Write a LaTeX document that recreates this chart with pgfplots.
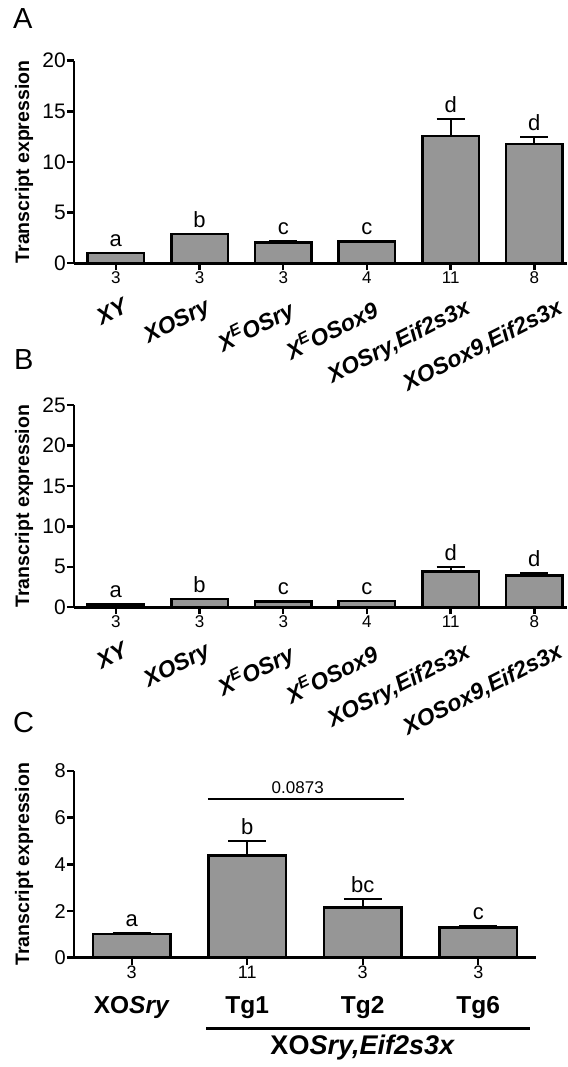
\documentclass[border=0pt]{standalone}
\usepackage{fontspec}
\setmainfont{Liberation Sans}
\usepackage{pgfplots}
\pgfplotsset{compat=1.18}
\definecolor{bargray}{RGB}{150,150,150}
\newcommand{\fs}[1]{\fontsize{#1}{#1}\selectfont}
\pgfplotsset{
  mybar/.style={
    scale only axis, axis lines=left, axis line style={-, line width=2.6pt},
    xmin=-0.5, ymin=0, clip=false, ybar,
    tick align=outside, major tick length=7pt,
    tick style={line width=2.4pt, black},
    yticklabel style={font=\fs{21}, inner sep=1pt},
    xticklabel style={font=\fs{17}, yshift=2pt},
    /pgf/number format/assume math mode=true,
    ylabel={Transcript expression},
    ylabel style={font=\bfseries\fs{19.5}, anchor=center},
  },
  mybars/.style={fill=bargray, draw=black, line width=2.5pt,
    error bars/.cd, y dir=plus, y explicit,
    error bar style={line width=2pt, black},
    error mark options={rotate=90, line width=2pt, black, mark size=#1}},
}
\tikzset{
  lett/.style={anchor=base, font=\fs{22}},
  cat/.style={rotate=27, anchor=north east, font=\bfseries\itshape\fs{23}, inner sep=0},
}
\newcommand{\catlabels}{%
  \node[cat] at ([xshift=6pt,yshift=-34pt]axis cs:0,0) {XY};
  \node[cat] at ([xshift=4.5pt,yshift=-34pt]axis cs:1,0) {XOSry};
  \node[cat] at ([xshift=3.5pt,yshift=-34pt]axis cs:2,0) {X\textsuperscript{E}OSry};
  \node[cat] at ([xshift=4pt,yshift=-34pt]axis cs:3,0) {X\textsuperscript{E}OSox9};
  \node[cat] at ([xshift=13.5pt,yshift=-34pt]axis cs:4,0) {XOSry,Eif2s3x};
  \node[cat] at ([xshift=22pt,yshift=-34pt]axis cs:5,0) {XOSox9,Eif2s3x};
}
\begin{document}
\begin{tikzpicture}[x=1pt,y=1pt]
\useasboundingbox (0,0) rectangle (567,1067);
\node[anchor=base west, font=\fs{29}, inner sep=0] at (13,1038) {A};
\node[anchor=base west, font=\fs{29}, inner sep=0] at (14,697) {B};
\node[anchor=base west, font=\fs{29}, inner sep=0] at (13,334) {C};

% Panel A
\begin{axis}[mybar, at={(74pt,803.7pt)}, anchor=south west, width=493pt, height=202.6pt,
  ylabel style={at={(axis description cs:-0.1014,0.5)}},
  xmax=5.39, ymax=20, ytick={0,5,...,20}, bar width=56.5pt,
  xtick={0,...,5}, xticklabels={3,3,3,4,11,8}]
\addplot[mybars=14pt] coordinates {
  (0,1.0) +- (0,0.03)
  (1,2.88) +- (0,0.05)
  (2,2.07) +- (0,0.13)
  (3,2.15) +- (0,0.05)
  (4,12.55) +- (0,1.7)
  (5,11.8) +- (0,0.7)
};
\node[lett] at ([yshift=6.5pt]axis cs:0,1.03) {a};
\node[lett] at ([yshift=6.5pt]axis cs:1,2.93) {b};
\node[lett] at ([yshift=6.5pt]axis cs:2,2.2) {c};
\node[lett] at ([yshift=6.5pt]axis cs:3,2.2) {c};
\node[lett] at ([yshift=6.5pt]axis cs:4,14.25) {d};
\node[lett] at ([yshift=6.5pt]axis cs:5,12.5) {d};
\catlabels
\end{axis}

% Panel B
\begin{axis}[mybar, at={(74pt,459.7pt)}, anchor=south west, width=493pt, height=202.3pt,
  ylabel style={at={(axis description cs:-0.1014,0.5)}},
  xmax=5.39, ymax=25, ytick={0,5,...,25}, bar width=56.5pt,
  xtick={0,...,5}, xticklabels={3,3,3,4,11,8}]
\addplot[mybars=14pt] coordinates {
  (0,0.35) +- (0,0.04)
  (1,1.03) +- (0,0.05)
  (2,0.7) +- (0,0.05)
  (3,0.78) +- (0,0.03)
  (4,4.4) +- (0,0.55)
  (5,3.9) +- (0,0.3)
};
\node[lett] at ([yshift=6.5pt]axis cs:0,0.39) {a};
\node[lett] at ([yshift=6.5pt]axis cs:1,1.08) {b};
\node[lett] at ([yshift=6.5pt]axis cs:2,0.75) {c};
\node[lett] at ([yshift=6.5pt]axis cs:3,0.81) {c};
\node[lett] at ([yshift=6.5pt]axis cs:4,4.95) {d};
\node[lett] at ([yshift=6.5pt]axis cs:5,4.2) {d};
\catlabels
\end{axis}

% Panel C
\begin{axis}[mybar, at={(74pt,109.3pt)}, anchor=south west, width=462pt, height=186.7pt,
  ylabel style={at={(axis description cs:-0.1082,0.5)}},
  xmax=3.5, ymax=8, ytick={0,2,...,8}, bar width=77.4pt,
  yticklabel style={font=\fs{20}},
  xticklabel style={font=\fs{18}},
  xtick={0,...,3}, xticklabels={3,11,3,3}]
\addplot[mybars=19pt] coordinates {
  (0,1.02) +- (0,0.02)
  (1,4.37) +- (0,0.62)
  (2,2.16) +- (0,0.37)
  (3,1.29) +- (0,0.05)
};
\node[lett] at ([yshift=6.5pt]axis cs:0,1.04) {a};
\node[lett] at ([yshift=6.5pt]axis cs:1,4.99) {b};
\node[lett] at ([yshift=6.5pt]axis cs:2,2.53) {bc};
\node[lett] at ([yshift=6.5pt]axis cs:3,1.34) {c};
\draw[line width=2pt] (axis cs:0.66,6.8) -- (axis cs:2.355,6.8);
\node[anchor=base, font=\fs{17}] at (axis cs:1.437,7.05) {0.0873};
\node[anchor=base, font=\bfseries\fs{24.5}] at ([yshift=-55.5pt]axis cs:0,0) {XO\textit{Sry}};
\node[anchor=base, font=\bfseries\fs{24.5}] at ([yshift=-55.5pt]axis cs:1,0) {Tg1};
\node[anchor=base, font=\bfseries\fs{24.5}] at ([yshift=-55.5pt]axis cs:2,0) {Tg2};
\node[anchor=base, font=\bfseries\fs{24.5}] at ([yshift=-55.5pt]axis cs:3,0) {Tg6};
\draw[line width=2.8pt] ([yshift=-70.6pt]axis cs:0.647,0) -- ([yshift=-70.6pt]axis cs:3.446,0);
\node[anchor=base, font=\bfseries\fs{27}] at ([yshift=-96.3pt]axis cs:2,0) {XO\textit{Sry,Eif2s3x}};
\end{axis}
\end{tikzpicture}
\end{document}
